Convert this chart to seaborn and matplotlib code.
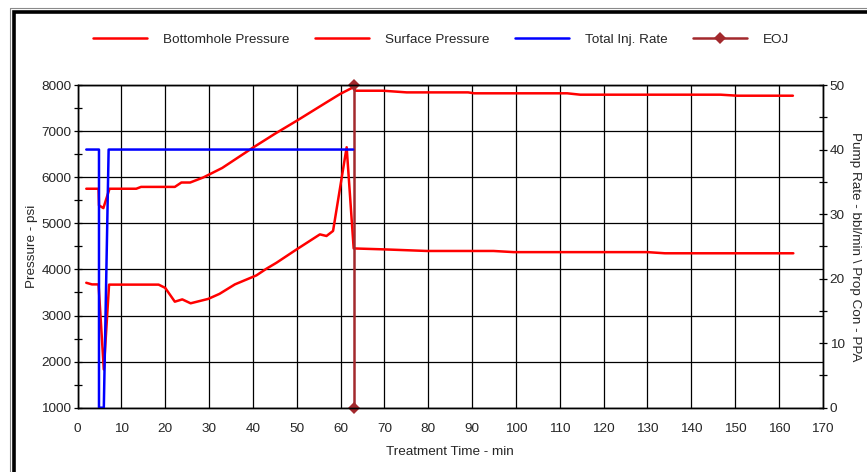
import numpy as np
import pandas as pd
import matplotlib
matplotlib.use("Agg")
import matplotlib.pyplot as plt
import seaborn as sns
from matplotlib.lines import Line2D
from matplotlib.ticker import MultipleLocator

# Bottomhole pressure (psi) vs treatment time (min)
bhp_time = [2.0, 4.8, 4.9, 5.9, 7.3, 13.4, 14.5, 22.2, 23.7, 25.7, 28.7, 33.0, 36.5,
            40.1, 45.0, 50.0, 53.5, 56.8, 60.0, 62.9, 63.1, 63.3, 69.7, 75.1, 89.1,
            90.5, 111.7, 114.7, 146.7, 150.5, 163.2]
bhp_psi = [5750, 5750, 5390, 5330, 5750, 5750, 5790, 5790, 5885, 5885, 5995, 6200, 6420,
           6646, 6940, 7224, 7430, 7624, 7810, 7950, 8000, 7876, 7876, 7840, 7840,
           7820, 7820, 7790, 7790, 7768, 7768]

# Surface pressure (psi)
sp_time = [2.0, 3.3, 4.8, 6.0, 7.2, 18.5, 20.0, 22.2, 23.9, 25.8, 29.8, 32.4, 35.9,
           40.8, 43.1, 45.4, 50.0, 55.3, 56.8, 58.3, 61.4, 63.0, 69.8, 79.7, 94.9,
           99.5, 130.0, 134.0, 163.3]
sp_psi = [3710, 3675, 3675, 1830, 3670, 3670, 3600, 3300, 3350, 3265, 3360, 3470, 3675,
          3870, 4015, 4145, 4435, 4760, 4725, 4835, 6650, 4455, 4435, 4400, 4400,
          4375, 4375, 4350, 4350]

# Total injection rate (bbl/min)
rate_time = [2.0, 4.9, 4.9, 6.0, 7.1, 62.9]
rate_bpm = [40, 40, 0, 0, 40, 40]

# End of job marker
eoj_time = [63.1, 63.1]
eoj_psi = [1000, 8000]

labels = ["Bottomhole Pressure", "Surface Pressure", "Total Inj. Rate", "EOJ"]
RED, BLUE, BROWN = "#ff0000", "#0000ff", "#a3292d"

sns.set_style("white")
plt.rcParams["font.family"] = ["Liberation Sans", "DejaVu Sans"]
plt.rcParams["font.size"] = 9.7

fig = plt.figure(figsize=(8.67, 4.72), dpi=100)
ax = fig.add_axes([0.0894, 0.1362, 0.8595, 0.6837])
ax2 = ax.twinx()

sns.lineplot(x=bhp_time, y=bhp_psi, ax=ax, color=RED, linewidth=1.8,
             estimator=None, sort=False, legend=False)
sns.lineplot(x=sp_time, y=sp_psi, ax=ax, color=RED, linewidth=1.8,
             estimator=None, sort=False, legend=False)
sns.lineplot(x=eoj_time, y=eoj_psi, ax=ax, color=BROWN, linewidth=1.8, marker="D",
             markersize=6, markeredgewidth=0, estimator=None, sort=False,
             legend=False, clip_on=False)
sns.lineplot(x=rate_time, y=rate_bpm, ax=ax2, color=BLUE, linewidth=1.8,
             estimator=None, sort=False, legend=False)

ax.set_xlim(0, 170)
ax.set_ylim(1000, 8000)
ax2.set_ylim(0, 50)
ax.xaxis.set_major_locator(MultipleLocator(10))
ax.xaxis.set_minor_locator(MultipleLocator(5))
ax.yaxis.set_major_locator(MultipleLocator(1000))
ax.yaxis.set_minor_locator(MultipleLocator(500))
ax2.yaxis.set_major_locator(MultipleLocator(10))
ax2.yaxis.set_minor_locator(MultipleLocator(5))

ax.grid(True, which="major", color="black", linewidth=0.9)
ax.set_axisbelow(True)
for a in (ax, ax2):
    for s in a.spines.values():
        s.set_color("black")
        s.set_linewidth(1.0)
    a.tick_params(which="both", direction="inout", length=6, width=0.9,
                  color="black", labelsize=9.7)
ax.tick_params(axis="y", which="both", pad=1.5)
ax.tick_params(axis="x", which="both", pad=8)
ax2.tick_params(axis="y", which="both", pad=2)

ax.set_xlabel("Treatment Time - min", fontsize=9.7, labelpad=8)
ax.set_ylabel("Pressure - psi", fontsize=9.7, labelpad=2.5)
ax2.set_ylabel("Pump Rate - bbl/min \\ Prop Con - PPA", fontsize=9.7,
               rotation=270, labelpad=12)

handles = [Line2D([], [], color=RED, linewidth=1.8),
           Line2D([], [], color=RED, linewidth=1.8),
           Line2D([], [], color=BLUE, linewidth=1.8),
           Line2D([], [], color=BROWN, linewidth=1.8, marker="D", markersize=6,
                  markeredgewidth=0)]
fig.legend(handles, labels, loc="center", bbox_to_anchor=(441 / 867, 1 - 40 / 472),
           ncol=4, frameon=False, handlelength=4.0, handletextpad=1.2,
           columnspacing=1.9, fontsize=9.7)

# outer frame (left and top edges only visible)
W, H = 867, 472
fig.add_artist(Line2D([10 / W, 10 / W, 1], [0, 1 - 7.5 / H, 1 - 7.5 / H],
                      color="#8a8a8a", linewidth=0.8, transform=fig.transFigure))
fig.add_artist(Line2D([14.3 / W, 14.3 / W, 1], [0, 1 - 12.3 / H, 1 - 12.3 / H],
                      color="black", linewidth=2.6, transform=fig.transFigure,
                      solid_joinstyle="miter"))

fig.savefig("out.png", dpi=100)
